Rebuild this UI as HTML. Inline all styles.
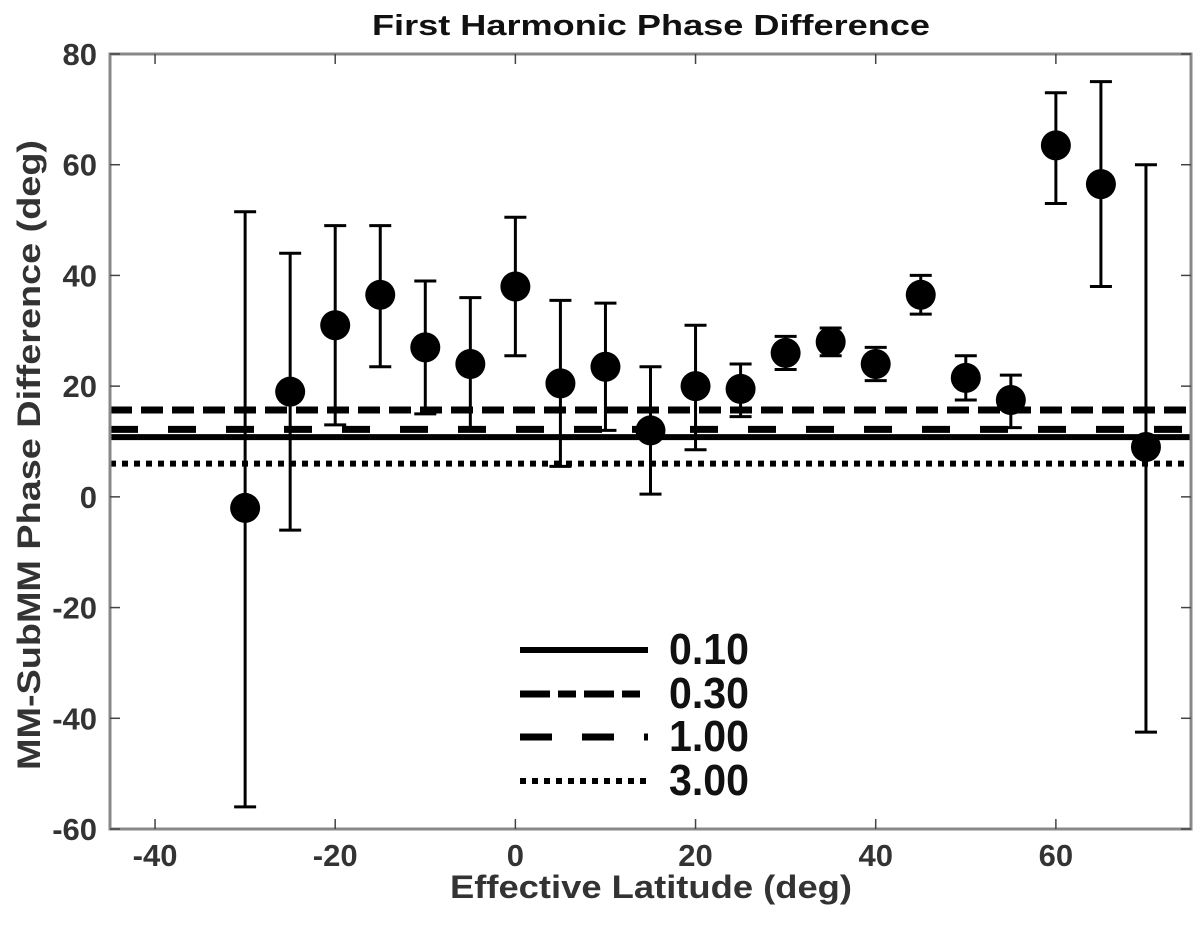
<!DOCTYPE html>
<html><head><meta charset="utf-8"><style>
html,body{margin:0;padding:0;background:#fff}
svg text{font-family:"Liberation Sans",Arial,sans-serif;font-weight:bold}
</style></head><body>
<svg id="chart" width="1200" height="920" xmlns="http://www.w3.org/2000/svg">
<text x="372" y="35" font-size="29" textLength="558" lengthAdjust="spacingAndGlyphs" fill="#111">First Harmonic Phase Difference</text>
<text x="450" y="898" font-size="32" textLength="402" lengthAdjust="spacingAndGlyphs" fill="#333">Effective Latitude (deg)</text>
<text transform="translate(40,770) rotate(-90)" font-size="32" textLength="630" lengthAdjust="spacingAndGlyphs" fill="#333">MM-SubMM Phase Difference (deg)</text>
<g id="plot"></g>
</svg>
<script>
const lats = [-30,-25,-20,-15,-10,-5,0,5,10,15,20,25,30,35,40,45,50,55,60,65,70];
const phase = [-2,19,31,36.5,27,24,38,20.5,23.5,12,20,19.5,26,28,24,36.5,21.5,17.5,63.5,56.5,9];
const errHigh = [51.5,44,49,49,39,36,50.5,35.5,35,23.5,31,24,29,30.5,27,40,25.5,22,73,75,60];
const errLow = [-56,-6,13,23.5,15,12,25.5,5.5,12,0.5,8.5,14.5,23,25.5,21,33,17.5,12.5,53,38,-42.5];
const refLabels = ["0.10","0.30","1.00","3.00"];
const refValues = [10.8,15.7,12.2,6.0];
const xTicks = [-40,-20,0,20,40,60];
const yTicks = [80,60,40,20,0,-20,-40,-60];

const X0=110,X1=1191,Y0=54,Y1=829;
const xmin=-45,xmax=75,ymin=-60,ymax=80;
const sx=v=>X0+(v-xmin)/(xmax-xmin)*(X1-X0);
const sy=v=>Y1-(v-ymin)/(ymax-ymin)*(Y1-Y0);
const NS="http://www.w3.org/2000/svg";
const g=document.getElementById('plot');
function mk(tag,attrs,parent){const e=document.createElementNS(NS,tag);for(const k in attrs)e.setAttribute(k,attrs[k]);(parent||g).appendChild(e);return e;}

const styles=[
 {w:6,dash:""},
 {w:7,dash:"22 9"},
 {w:7,dash:"28 30"},
 {w:6,dash:"6 6"}
];
refValues.forEach((v,i)=>{
  const l=mk('line',{x1:X0,x2:X1,y1:sy(v),y2:sy(v),stroke:'#000','stroke-width':styles[i].w,'stroke-dasharray':styles[i].dash});
  
  
});
const fr=mk('rect',{x:X0,y:Y0,width:X1-X0,height:Y1-Y0,fill:'none',stroke:'#888','stroke-width':3});


xTicks.forEach(t=>{
  const x=sx(t);
  mk('line',{x1:x,x2:x,y1:Y1,y2:Y1-10,stroke:'#444','stroke-width':1.5});
  mk('line',{x1:x,x2:x,y1:Y0,y2:Y0+10,stroke:'#444','stroke-width':1.5});
  const tx=mk('text',{x:x,y:Y1+37,'font-size':31,'text-anchor':'middle',fill:'#333'});
  tx.textContent=t;
  
  
});
yTicks.forEach(t=>{
  const y=sy(t);
  mk('line',{x1:X0,x2:X0+10,y1:y,y2:y,stroke:'#444','stroke-width':1.5});
  mk('line',{x1:X1,x2:X1-10,y1:y,y2:y,stroke:'#444','stroke-width':1.5});
  const tx=mk('text',{x:X0-13,y:y+11,'font-size':31,'text-anchor':'end',fill:'#333'});
  tx.textContent=t;
  
  
});
lats.forEach((la,i)=>{
  const x=sx(la);
  const eg=mk('g',{});
  
  
  mk('line',{x1:x,x2:x,y1:sy(errHigh[i]),y2:sy(errLow[i]),stroke:'#000','stroke-width':3},eg);
  mk('line',{x1:x-11,x2:x+11,y1:sy(errHigh[i]),y2:sy(errHigh[i]),stroke:'#000','stroke-width':3},eg);
  mk('line',{x1:x-11,x2:x+11,y1:sy(errLow[i]),y2:sy(errLow[i]),stroke:'#000','stroke-width':3},eg);
  const c=mk('circle',{cx:x,cy:sy(phase[i]),r:15,fill:'#000'});
  
  
});
const legY=[650,694,737,781];
const legDash=["","30 8 18 8","32 30","6 6"];
refLabels.forEach((lb,i)=>{
  const l=mk('line',{x1:520,x2:648,y1:legY[i],y2:legY[i],stroke:'#000','stroke-width':styles[i].w,'stroke-dasharray':legDash[i]});
  
  
  const t=mk('text',{x:669,y:legY[i]+14,'font-size':44,textLength:80,lengthAdjust:'spacingAndGlyphs',fill:'#111'});
  t.textContent=lb;
  
  
});
</script>
</body></html>
